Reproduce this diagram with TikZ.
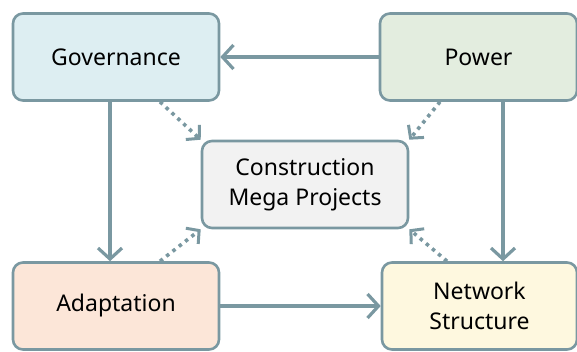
\documentclass[tikz,border=0pt]{standalone}
\usepackage{fontspec}
\setmainfont{Noto Sans}
\usetikzlibrary{arrows.meta}
\definecolor{edgec}{HTML}{7A98A1}
\definecolor{govfill}{HTML}{DDEEF2}
\definecolor{powfill}{HTML}{E3EDDF}
\definecolor{cmpfill}{HTML}{F2F2F2}
\definecolor{adafill}{HTML}{FCE6D8}
\definecolor{netfill}{HTML}{FEF8DF}
\tikzset{
  box/.style={draw=edgec, line width=2.6pt, rounded corners=10pt, minimum width=206pt,
    minimum height=87pt, inner sep=0pt, align=center, font=\fontsize{23}{30}\selectfont},
  flow/.style={draw=edgec, line width=3.2pt, -{Straight Barb[length=11pt,width=24pt,line width=3.2pt]}},
  influence/.style={draw=edgec, line width=3.6pt, dash pattern=on 3.5pt off 4.5pt,
    -{Straight Barb[length=9pt,width=20pt,line width=3pt]}}
}
\begin{document}
\begin{tikzpicture}[x=1pt,y=-1pt]
\useasboundingbox (0,0) rectangle (577,351);
\node[box, fill=govfill] (gov) at (116,57) {Governance};
\node[box, fill=powfill, minimum width=197pt] (pow) at (478.5,57) {Power};
\node[box, fill=cmpfill] (cmp) at (305,184.5) {Construction\\Mega Projects};
\node[box, fill=adafill] (ada) at (116,306) {Adaptation};
\node[box, fill=netfill, minimum width=195pt] (net) at (479.5,306) {Network\\Structure};

\draw[flow] (pow.west) -- (gov.east);
\draw[flow] (gov.south -| 110,0) -- (ada.north -| 110,0);
\draw[flow] (pow.south -| 503,0) -- (net.north -| 503,0);
\draw[flow] (ada.east) -- (net.west);

\draw[influence] (gov.south -| 160,0) -- (cmp.north west);
\draw[influence] (pow.south -| 440,0) -- (cmp.north east);
\draw[influence] (ada.north -| 160,0) -- (cmp.south west);
\draw[influence] (net.north -| 447,0) -- (cmp.south east);
\end{tikzpicture}
\end{document}
